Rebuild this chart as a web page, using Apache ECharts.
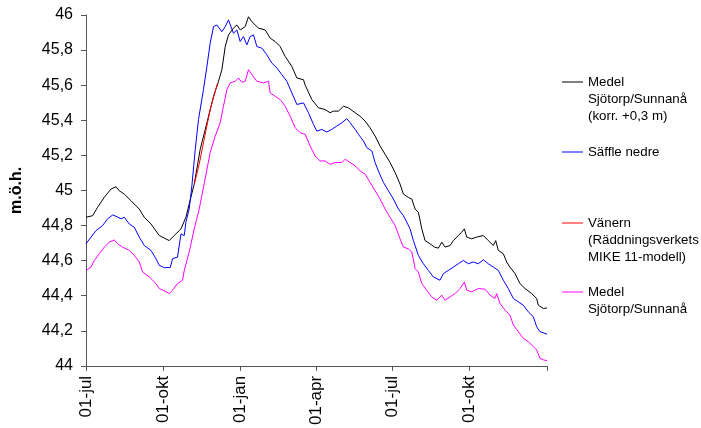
<!DOCTYPE html>
<html>
<head>
<meta charset="utf-8">
<script src="https://cdn.jsdelivr.net/npm/echarts@6/dist/echarts.min.js"></script>
<style>html,body{margin:0;padding:0;background:#fff;}#c{width:701px;height:428px;}</style>
</head>
<body>
<div id="c"></div>
<script>
// x = days since 01-jul (axis runs 01-jul .. 01-jan, 549 days)
const tickDays = [0, 92, 184, 274, 365, 457, 549];
const tickLabels = ['01-jul', '01-okt', '01-jan', '01-apr', '01-jul', '01-okt'];
const yTicks = [44, 44.2, 44.4, 44.6, 44.8, 45, 45.2, 45.4, 45.6, 45.8, 46];

const nameKorr = 'Medel\nSjötorp/Sunnanå\n(korr. +0,3 m)';
const nameSaffle = 'Säffle nedre';
const nameVanern = 'Vänern\n(Räddningsverkets\nMIKE 11-modell)';
const nameMedel = 'Medel\nSjötorp/Sunnanå';

const korrData = [
[0,44.847],[7.9,44.856],[13.8,44.904],[21.8,44.961],[29.8,45.008],[35.7,45.021],[39.6,44.998],[45.6,44.979],
[53.6,44.941],[63.4,44.894],[69.4,44.847],[77.4,44.809],[87.2,44.743],[99.1,44.714],[105.1,44.743],[113.1,44.781],
[119,44.847],[122.9,44.923],[128.9,45.036],[136,45.234],[144,45.386],[151.9,45.537],[157.8,45.622],[161.8,45.688],
[165.8,45.82],[169.7,45.887],[175.6,45.925],[179.7,45.943],[183.6,45.915],[189.6,45.934],[193.5,45.99],[197.5,45.962],
[205.4,45.925],[213.4,45.915],[219.3,45.868],[225.3,45.849],[231.2,45.82],[237.2,45.764],[245.1,45.707],[251.1,45.641],
[259,45.631],[261,45.6],[269,45.518],[276.8,45.471],[284.8,45.461],[290.7,45.443],[294.7,45.452],[300.6,45.452],
[306.6,45.48],[312.5,45.471],[320.5,45.443],[326.4,45.423],[332.4,45.395],[338.3,45.357],[344.3,45.31],[350.2,45.253],
[356.2,45.206],[362.1,45.159],[368.1,45.102],[374,45.036],[378,44.979],[383.9,44.96],[388,44.951],[391.9,44.894],
[395.8,44.876],[399.9,44.781],[403.8,44.714],[409.7,44.696],[414.9,44.677],[419.6,44.671],[423.7,44.705],[427.6,44.677],
[433.6,44.686],[437.5,44.714],[443.4,44.743],[447.5,44.762],[450.6,44.781],[453.4,44.734],[459.4,44.724],[465.3,44.734],
[473.2,44.743],[479.1,44.714],[485.1,44.686],[487.9,44.714],[491,44.658],[497,44.639],[501,44.592],[504.9,44.563],
[510.9,44.526],[516.8,44.469],[522.8,44.441],[530.8,44.412],[536.7,44.384],[538.6,44.346],[544.6,44.327],[549,44.33]
];

const saffleData = [
[0,44.696],[6,44.734],[11.9,44.771],[19.8,44.8],[25.7,44.838],[31.7,44.86],[35.7,44.853],[41.7,44.838],
[45.6,44.847],[51.5,44.809],[57.5,44.79],[63.4,44.734],[69.4,44.686],[77.4,44.658],[83.3,44.611],[87.2,44.573],
[93.2,44.56],[100.3,44.56],[103.1,44.611],[109,44.62],[113.1,44.752],[117,44.743],[119,44.819],[122.9,44.894],
[126.1,45.026],[130.1,45.234],[134,45.405],[139.9,45.575],[144,45.707],[147.9,45.84],[151.9,45.934],[155.9,45.943],
[161.8,45.905],[165.8,45.934],[169.7,45.972],[171.7,45.962],[175.6,45.896],[179.7,45.915],[183.6,45.849],[187.6,45.877],
[191.6,45.83],[195.5,45.877],[199.5,45.887],[203.5,45.82],[209.4,45.811],[215.4,45.773],[221.3,45.726],[227.3,45.698],
[233.2,45.66],[239.2,45.622],[245.1,45.556],[251.1,45.49],[259,45.499],[264.9,45.443],[270.9,45.376],[274.9,45.338],
[280.8,45.348],[286.8,45.333],[292.7,45.348],[298.7,45.367],[304.7,45.386],[310.6,45.409],[314.5,45.386],[320.5,45.348],
[324.4,45.32],[330.4,45.282],[334.4,45.244],[340.4,45.225],[344.3,45.159],[348.2,45.111],[354.2,45.046],[360.1,44.998],
[366.1,44.951],[372,44.894],[378,44.856],[382,44.819],[385.9,44.781],[389.9,44.714],[395.8,44.63],[401.8,44.582],
[407.7,44.544],[413.7,44.507],[415.7,44.497],[421.6,44.488],[425.6,44.526],[431.5,44.544],[437.5,44.563],[443.4,44.582],
[449.4,44.601],[455.3,44.582],[461.3,44.592],[467.2,44.582],[473.2,44.605],[479.1,44.582],[485.1,44.563],[491,44.544],
[497,44.488],[502.9,44.441],[508.9,44.384],[514.8,44.365],[520.8,44.346],[526.7,44.308],[532.7,44.28],[536.7,44.223],
[540.6,44.195],[546.6,44.185],[549,44.18]
];

const vanernData = [
[129.2,45.04],[134.8,45.15],[139.9,45.272],[147.9,45.461],[156.6,45.61]
];

const medelData = [
[0,44.544],[6,44.563],[9.9,44.601],[15.8,44.639],[21.8,44.677],[27.7,44.705],[33.7,44.718],[37.6,44.696],
[43.6,44.677],[51.5,44.658],[57.5,44.63],[63.4,44.592],[67.4,44.535],[75.3,44.507],[83.3,44.469],[87.2,44.441],
[93.2,44.428],[99.1,44.412],[103.1,44.431],[109,44.469],[115,44.488],[117,44.544],[122.9,44.649],[128.9,44.781],
[134.8,44.894],[140.8,45.04],[147.9,45.216],[153.9,45.31],[159.8,45.386],[163.7,45.48],[167.8,45.575],[171.7,45.613],
[177.7,45.622],[181.6,45.641],[185.6,45.616],[189.6,45.622],[193.5,45.688],[197.5,45.66],[203.5,45.622],[211.4,45.613],
[217.3,45.622],[219.3,45.556],[225.3,45.537],[231.2,45.518],[237.2,45.48],[243.1,45.423],[249.1,45.358],[255,45.329],
[261,45.32],[266.9,45.253],[272.9,45.196],[278.8,45.168],[284.8,45.168],[290.7,45.149],[296.7,45.159],[304.7,45.159],
[308.6,45.178],[314.5,45.159],[320.5,45.14],[326.4,45.111],[332.4,45.093],[338.3,45.046],[344.3,44.998],[350.2,44.951],
[356.2,44.894],[362.1,44.847],[368.1,44.8],[374,44.724],[378,44.677],[383.9,44.667],[388,44.649],[391.9,44.554],
[395.8,44.535],[399.9,44.469],[405.8,44.431],[411.7,44.393],[417.7,44.374],[423.7,44.403],[427.6,44.374],[433.6,44.393],
[439.5,44.412],[445.5,44.441],[450.6,44.478],[453.4,44.431],[459.4,44.422],[467.2,44.441],[475.2,44.437],[481.1,44.403],
[487.1,44.384],[489.1,44.412],[493,44.356],[499,44.318],[504.9,44.289],[508.9,44.233],[514.8,44.195],[520.8,44.157],
[526.7,44.138],[532.7,44.11],[536.7,44.091],[540.6,44.044],[544.6,44.034],[549,44.03]
];

const FONT = '"Liberation Sans", Arial, sans-serif';
const LH = 17;

function legendFor(name, top) {
  const n = name.split('\n').length;
  return {
    data: [name],
    left: 562, top: top, padding: 0,
    orient: 'vertical',
    icon: 'rect',
    itemWidth: 21, itemHeight: 1,
    selectedMode: false,
    formatter: function (nm) { return '\n'.repeat(n - 1) + nm; },
    textStyle: { fontFamily: FONT, fontSize: 13.3, color: '#000', lineHeight: LH }
  };
}
function legendTop(name, center) {
  const n = name.split('\n').length;
  return center - (2 * n - 1) * LH / 2;
}

function fmtY(v) {
  const r = Math.round(v * 10) / 10;
  return (Number.isInteger(r) ? String(r) : r.toFixed(1)).replace('.', ',');
}

const chart = echarts.init(document.getElementById('c'), null, { renderer: 'canvas' });
chart.setOption({
  animation: false,
  backgroundColor: '#fff',
  grid: { left: 86, right: 154, top: 15, bottom: 60, containLabel: false },
  legend: [
    legendFor(nameKorr, legendTop(nameKorr, 82)),
    legendFor(nameSaffle, legendTop(nameSaffle, 152)),
    legendFor(nameVanern, legendTop(nameVanern, 223)),
    legendFor(nameMedel, legendTop(nameMedel, 292))
  ],
  xAxis: {
    type: 'value', min: 0, max: 549,
    splitLine: { show: false },
    axisLine: { show: true, onZero: false, lineStyle: { color: '#555', width: 1 } },
    axisTick: { show: true, inside: false, length: 5, customValues: tickDays, lineStyle: { color: '#555' } },
    axisLabel: {
      customValues: tickDays.slice(0, tickLabels.length),
      rotate: 90, margin: 10,
      fontFamily: FONT, fontSize: 17, color: '#000',
      formatter: function (v) { const i = tickDays.indexOf(Math.round(v)); return i >= 0 && i < tickLabels.length ? tickLabels[i] : ''; }
    }
  },
  yAxis: {
    type: 'value', min: 44, max: 46, interval: 0.2,
    name: 'm.ö.h.', nameLocation: 'middle', nameGap: 61, nameRotate: 90,
    nameTextStyle: { fontFamily: FONT, fontSize: 16, fontWeight: 'bold', color: '#000' },
    splitLine: { show: false },
    axisLine: { show: true, lineStyle: { color: '#555', width: 1 } },
    axisTick: { show: true, inside: false, length: 5, lineStyle: { color: '#555' } },
    axisLabel: { margin: 13, fontFamily: FONT, fontSize: 16, color: '#000', formatter: fmtY }
  },
  series: [
    { name: nameKorr, type: 'line', data: korrData, symbol: 'none', lineStyle: { color: '#000000', width: 1 }, itemStyle: { color: '#000000' } },
    { name: nameSaffle, type: 'line', data: saffleData, symbol: 'none', lineStyle: { color: '#0000ff', width: 1 }, itemStyle: { color: '#0000ff' } },
    { name: nameMedel, type: 'line', data: medelData, symbol: 'none', lineStyle: { color: '#ff00ff', width: 1 }, itemStyle: { color: '#ff00ff' } },
    { name: nameVanern, type: 'line', data: vanernData, symbol: 'none', lineStyle: { color: '#ff0000', width: 1 }, itemStyle: { color: '#ff0000' } }
  ]
});
</script>
</body>
</html>
